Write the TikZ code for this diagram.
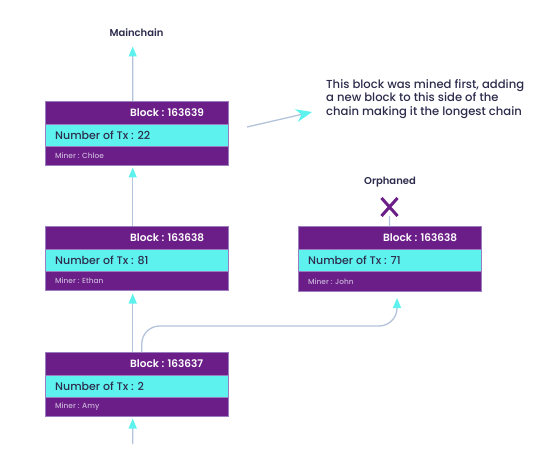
\documentclass[tikz,border=0pt]{standalone}
\usepackage{fontspec}
\setmainfont{Poppins}[UprightFont=* Medium, BoldFont=* SemiBold]
\usetikzlibrary{arrows.meta,shapes.misc}
\definecolor{purp}{HTML}{6B1E87}
\definecolor{cyanb}{HTML}{5EF2EF}
\definecolor{navy}{HTML}{2D2C4C}
\definecolor{lnk}{HTML}{B3C3DB}
\definecolor{minr}{HTML}{C9B3DA}
\definecolor{bord}{HTML}{9A7DBE}
\tikzset{
  boxbase/.style={rectangle, draw=bord, line width=0.5bp, minimum width=183bp, inner sep=0pt, outer sep=0pt, anchor=north west},
  hdr/.style={boxbase, fill=purp, minimum height=23bp},
  txb/.style={boxbase, fill=cyanb, minimum height=22bp},
  mnb/.style={boxbase, fill=purp, minimum height=19.5bp},
  hdrtxt/.style={anchor=west, inner sep=0pt, text=white, font=\fontsize{10.5bp}{12bp}\selectfont\bfseries},
  txtxt/.style={anchor=west, inner sep=0pt, text=navy, font=\fontsize{11bp}{12bp}\selectfont},
  mntxt/.style={anchor=west, inner sep=0pt, text=minr, font=\fontsize{7.4bp}{8bp}\selectfont},
  lbl/.style={inner sep=0pt, text=navy, font=\fontsize{10bp}{12bp}\selectfont\bfseries},
  arr/.style={draw=lnk, line width=1.3bp, -{Triangle[length=10bp,width=8bp,color=cyanb]}},
}
\newcommand\mkblock[6]{%
  \node[hdr] (#1h) at (#2,#3) {};
  \node[txb] (#1t) at (#2,#3+23) {};
  \node[mnb] (#1m) at (#2,#3+45) {};
  \node[hdrtxt] (#1n) at (#2+85,#3+11.5) {Block : #4};
  \node[txtxt] (#1x) at (#2+10,#3+34) {Number of Tx : #5};
  \node[mntxt] (#1w) at (#2+10,#3+55) {Miner : #6};
}
\begin{document}
\begin{tikzpicture}[x=1bp,y=-1bp]
\useasboundingbox (0,0) rectangle (557,464);
\mkblock{b1}{45}{101}{163639}{22}{Chloe}
\mkblock{b2}{45}{226}{163638}{81}{Ethan}
\mkblock{b3}{45}{352}{163637}{2}{Amy}
\mkblock{o1}{298}{226.5}{163638}{71}{John}
% labels
\node[lbl] (main) at (136.5,33) {Mainchain};
\node[lbl] (orph) at (390,182) {Orphaned};
\node[cross out, draw=purp, line width=3bp, minimum width=13bp, minimum height=15bp, inner sep=0pt] (xm) at (389.5,207) {};
\node[anchor=north west, inner sep=0pt, text=navy, align=left,
      font=\fontsize{11.6bp}{13.5bp}\selectfont] (note) at (326,79)
  {This block was mined first, adding\\a new block to this side of the\\chain making it the longest chain};
% connectors
\coordinate (mtip) at (132.7,46.5);
\draw[arr] ([xshift=-3.8bp]b1h.north) -- (mtip);
\draw[arr, shorten >=2bp] ([xshift=-3.8bp]b2h.north) -- ([xshift=-3.8bp]b1m.south);
\draw[arr, shorten >=3bp] ([xshift=-3.8bp]b3h.north) -- ([xshift=-3.8bp]b2m.south);
\coordinate (bot) at (132.7,444);
\draw[arr, shorten >=2bp] (bot) -- ([xshift=-3.8bp]b3m.south);
\draw[arr, rounded corners=18bp, shorten >=7bp] ([xshift=5.2bp]b3h.north) |- (397,326) -- ([xshift=7.5bp]o1m.south);
\draw[draw=lnk, line width=1.3bp] (xm.south) -- (o1h.north);
\coordinate (atail) at (247,127);
\coordinate (ahead) at (312,112);
\draw[draw=lnk, line width=1.3bp, -{Stealth[length=16bp,width=13bp,color=cyanb]}] (atail) -- (ahead);
\end{tikzpicture}
\end{document}
